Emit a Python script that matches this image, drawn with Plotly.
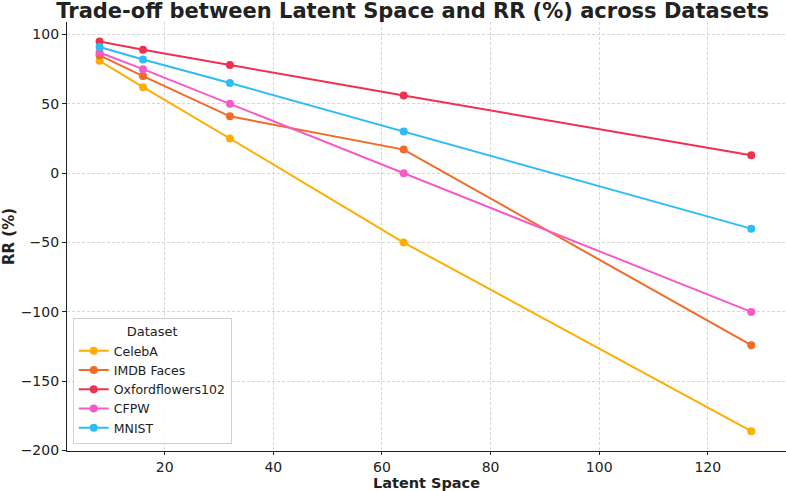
import plotly.graph_objects as go

latent = [8, 16, 32, 64, 128]
celeba = [81, 62, 25, -50, -186]
imdb = [85, 70, 41, 17, -124]
oxford = [95, 89, 78, 56, 13]
cfpw = [87, 75, 50, 0, -100]
mnist = [91, 82, 65, 30, -40]

series = [
    ("CelebA", celeba, "#FFAD00"),
    ("IMDB Faces", imdb, "#F26B26"),
    ("Oxfordflowers102", oxford, "#F0304F"),
    ("CFPW", cfpw, "#F55AC8"),
    ("MNIST", mnist, "#2EBCF5"),
]

fig = go.Figure()
for name, vals, col in series:
    fig.add_trace(go.Scatter(
        x=latent, y=vals, name=name, mode="lines+markers",
        line=dict(color=col, width=2),
        marker=dict(color=col, size=8),
    ))

font = "DejaVu Sans"
fig.update_layout(
    width=786, height=491,
    margin=dict(l=67, r=0, t=22, b=40),
    paper_bgcolor="white", plot_bgcolor="white",
    font=dict(family=font, color="#222", size=14),
    title=dict(text="<b>Trade-off between Latent Space and RR (%) across Datasets</b>",
               x=0.525, xanchor="center", y=0.978, yanchor="middle",
               font=dict(family=font, size=21, color="#222")),
    legend=dict(
        title=dict(text="Dataset", side="top center", font=dict(size=13)),
        x=0.008, y=0.016, xanchor="left", yanchor="bottom",
        bgcolor="rgba(255,255,255,0.85)", bordercolor="#d0d0d0", borderwidth=1,
        font=dict(size=12.5, color="#222"), itemwidth=30,
        tracegroupgap=0,
    ),
    showlegend=True,
)
grid = dict(showgrid=True, gridcolor="#d6d6d6", griddash="3px,2px", gridwidth=1)
fig.update_xaxes(
    range=[2, 134.4], tickvals=[20, 40, 60, 80, 100, 120],
    showline=True, linecolor="#222", linewidth=1.2,
    ticks="outside", ticklen=3, tickcolor="#222",
    zeroline=False,
    title=dict(text="<b>Latent Space</b>", font=dict(size=14.5), standoff=5),
    tickfont=dict(size=14),
    **grid,
)
fig.update_yaxes(
    range=[-200.3, 109], tickvals=[-200, -150, -100, -50, 0, 50, 100],
    showline=True, linecolor="#222", linewidth=1.2,
    ticks="outside", ticklen=4, tickcolor="#222",
    zeroline=False,
    title=dict(text="<b>RR (%)</b>", font=dict(size=15), standoff=4),
    tickfont=dict(size=14),
    **grid,
)
fig.write_html("out.html")
